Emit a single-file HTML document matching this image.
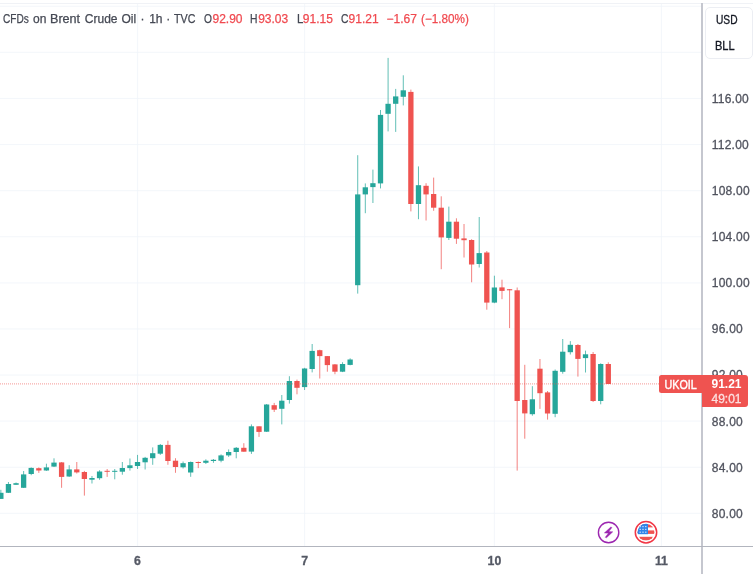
<!DOCTYPE html>
<html><head><meta charset="utf-8"><title>UKOIL chart</title>
<style>
html,body{margin:0;padding:0;background:#fff;}
body{width:753px;height:574px;position:relative;overflow:hidden;font-family:"Liberation Sans",sans-serif;color:#131722;}
#chart{position:absolute;left:0;top:0;width:753px;height:574px;}
.topline{position:absolute;left:0;top:2.5px;width:753px;height:1px;background:#f0f2f6;}
.vaxis{position:absolute;left:701px;top:3px;width:2px;height:571px;background:#c5c7cf;}
.haxis{position:absolute;left:0;top:545.55px;width:753px;height:1.3px;background:#b2b5be;}
.legend{position:absolute;left:0;top:10.3px;height:18px;line-height:18px;font-size:12px;white-space:nowrap;color:#454954;-webkit-text-stroke:0.25px;}
.legend span{position:absolute;top:0;white-space:nowrap}
.legend .v{color:#f04a50}
.pl{position:absolute;left:711.8px;letter-spacing:0.22px;width:40px;height:16px;line-height:16px;font-size:12px;color:#50535e;-webkit-text-stroke:0.3px #50535e;white-space:nowrap;}
.tl{position:absolute;top:552.7px;width:40px;height:16px;line-height:16px;text-align:center;font-size:12.3px;font-weight:bold;color:#555965;-webkit-text-stroke:0.3px #555965;}
.unit{position:absolute;left:705.1px;top:6.6px;width:47.7px;height:52.4px;border:1px solid #eceef3;border-radius:5px;box-sizing:border-box;background:#fff;font-size:12px;color:#131722;}
.unit div{position:absolute;left:8.9px;height:14px;line-height:14px;transform-origin:0 50%;-webkit-text-stroke:0.3px;}
.sym{position:absolute;left:659px;top:375.1px;width:43px;height:17.7px;background:#ef5350;border-radius:2.5px 0 0 2.5px;color:#fff;font-size:12.4px;font-weight:normal;-webkit-text-stroke:0.4px #fff;line-height:20.4px;text-align:center;overflow:visible;}
.sym span{display:inline-block;transform:scaleX(.87);}
.last{position:absolute;left:701.5px;top:375.1px;width:46.3px;height:32.2px;background:#ef5350;border-radius:0 3px 3px 0;color:#fff;font-size:12px;}
.last div{position:absolute;left:10px;height:14px;line-height:14px;white-space:nowrap}
</style></head><body>
<svg id="chart" width="753" height="574" viewBox="0 0 753 574">
<rect x="0" y="5.70" width="701" height="1.1" fill="#f0f3fa" opacity=".7"/>
<rect x="0" y="51.80" width="701" height="1.1" fill="#f0f3fa" opacity=".7"/>
<rect x="0" y="97.90" width="701" height="1.1" fill="#f0f3fa" opacity=".7"/>
<rect x="0" y="144.00" width="701" height="1.1" fill="#f0f3fa" opacity=".7"/>
<rect x="0" y="190.10" width="701" height="1.1" fill="#f0f3fa" opacity=".7"/>
<rect x="0" y="236.20" width="701" height="1.1" fill="#f0f3fa" opacity=".7"/>
<rect x="0" y="282.30" width="701" height="1.1" fill="#f0f3fa" opacity=".7"/>
<rect x="0" y="328.40" width="701" height="1.1" fill="#f0f3fa" opacity=".7"/>
<rect x="0" y="374.50" width="701" height="1.1" fill="#f0f3fa" opacity=".7"/>
<rect x="0" y="420.60" width="701" height="1.1" fill="#f0f3fa" opacity=".7"/>
<rect x="0" y="466.70" width="701" height="1.1" fill="#f0f3fa" opacity=".7"/>
<rect x="0" y="512.80" width="701" height="1.1" fill="#f0f3fa" opacity=".7"/>
<rect x="136.97" y="3" width="1.1" height="543" fill="#f0f3fa" opacity=".7"/>
<rect x="304.02" y="3" width="1.1" height="543" fill="#f0f3fa" opacity=".7"/>
<rect x="493.85" y="3" width="1.1" height="543" fill="#f0f3fa" opacity=".7"/>
<rect x="660.89" y="3" width="1.1" height="543" fill="#f0f3fa" opacity=".7"/>
<rect x="0.35" y="489.8" width="1" height="9.1" fill="#26a69a" opacity=".72"/>
<rect x="7.94" y="482.0" width="1" height="11.0" fill="#26a69a" opacity=".72"/>
<rect x="15.54" y="482.5" width="1" height="2.3" fill="#26a69a" opacity=".72"/>
<rect x="23.13" y="471.0" width="1" height="17.0" fill="#26a69a" opacity=".72"/>
<rect x="30.72" y="467.4" width="1" height="7.8" fill="#26a69a" opacity=".72"/>
<rect x="38.32" y="467.4" width="1" height="5.5" fill="#ef5350" opacity=".72"/>
<rect x="45.91" y="463.7" width="1" height="7.2" fill="#26a69a" opacity=".72"/>
<rect x="53.50" y="458.3" width="1" height="8.7" fill="#26a69a" opacity=".72"/>
<rect x="61.09" y="462.0" width="1" height="25.8" fill="#ef5350" opacity=".72"/>
<rect x="68.69" y="465.2" width="1" height="11.7" fill="#26a69a" opacity=".72"/>
<rect x="76.28" y="462.0" width="1" height="11.5" fill="#ef5350" opacity=".72"/>
<rect x="83.87" y="470.9" width="1" height="24.7" fill="#ef5350" opacity=".72"/>
<rect x="91.47" y="476.0" width="1" height="7.5" fill="#26a69a" opacity=".72"/>
<rect x="99.06" y="470.2" width="1" height="9.6" fill="#26a69a" opacity=".72"/>
<rect x="106.65" y="469.0" width="1" height="7.9" fill="#ef5350" opacity=".72"/>
<rect x="114.24" y="469.0" width="1" height="10.3" fill="#26a69a" opacity=".72"/>
<rect x="121.84" y="462.0" width="1" height="12.7" fill="#26a69a" opacity=".72"/>
<rect x="129.43" y="458.5" width="1" height="12.1" fill="#26a69a" opacity=".72"/>
<rect x="137.02" y="454.9" width="1" height="14.1" fill="#26a69a" opacity=".72"/>
<rect x="144.62" y="456.9" width="1" height="12.6" fill="#26a69a" opacity=".72"/>
<rect x="152.21" y="447.4" width="1" height="17.4" fill="#26a69a" opacity=".72"/>
<rect x="159.80" y="444.0" width="1" height="10.9" fill="#26a69a" opacity=".72"/>
<rect x="167.40" y="440.7" width="1" height="24.1" fill="#ef5350" opacity=".72"/>
<rect x="174.99" y="458.2" width="1" height="14.6" fill="#ef5350" opacity=".72"/>
<rect x="182.58" y="461.5" width="1" height="7.0" fill="#26a69a" opacity=".72"/>
<rect x="190.17" y="461.5" width="1" height="15.3" fill="#26a69a" opacity=".72"/>
<rect x="197.77" y="461.5" width="1" height="6.6" fill="#ef5350" opacity=".72"/>
<rect x="205.36" y="459.3" width="1" height="4.7" fill="#26a69a" opacity=".72"/>
<rect x="212.95" y="459.0" width="1" height="3.8" fill="#26a69a" opacity=".72"/>
<rect x="220.55" y="454.4" width="1" height="7.9" fill="#26a69a" opacity=".72"/>
<rect x="228.14" y="449.4" width="1" height="7.5" fill="#26a69a" opacity=".72"/>
<rect x="235.73" y="447.0" width="1" height="11.3" fill="#26a69a" opacity=".72"/>
<rect x="243.33" y="443.2" width="1" height="8.5" fill="#ef5350" opacity=".72"/>
<rect x="250.92" y="424.4" width="1" height="29.5" fill="#26a69a" opacity=".72"/>
<rect x="258.51" y="426.3" width="1" height="10.6" fill="#ef5350" opacity=".72"/>
<rect x="266.11" y="404.0" width="1" height="28.0" fill="#26a69a" opacity=".72"/>
<rect x="273.70" y="402.9" width="1" height="9.1" fill="#ef5350" opacity=".72"/>
<rect x="281.29" y="395.0" width="1" height="29.4" fill="#26a69a" opacity=".72"/>
<rect x="288.88" y="376.2" width="1" height="27.4" fill="#26a69a" opacity=".72"/>
<rect x="296.48" y="379.6" width="1" height="14.7" fill="#ef5350" opacity=".72"/>
<rect x="304.07" y="367.8" width="1" height="22.2" fill="#26a69a" opacity=".72"/>
<rect x="311.66" y="344.0" width="1" height="28.4" fill="#26a69a" opacity=".72"/>
<rect x="319.26" y="349.7" width="1" height="28.8" fill="#ef5350" opacity=".72"/>
<rect x="326.85" y="356.0" width="1" height="15.7" fill="#ef5350" opacity=".72"/>
<rect x="334.44" y="364.0" width="1" height="10.2" fill="#ef5350" opacity=".72"/>
<rect x="342.04" y="362.2" width="1" height="9.9" fill="#26a69a" opacity=".72"/>
<rect x="349.63" y="358.3" width="1" height="7.0" fill="#26a69a" opacity=".72"/>
<rect x="357.22" y="155.2" width="1" height="138.4" fill="#26a69a" opacity=".72"/>
<rect x="364.81" y="183.4" width="1" height="29.8" fill="#26a69a" opacity=".72"/>
<rect x="372.41" y="169.6" width="1" height="33.4" fill="#26a69a" opacity=".72"/>
<rect x="380.00" y="110.0" width="1" height="78.4" fill="#26a69a" opacity=".72"/>
<rect x="387.59" y="57.9" width="1" height="73.5" fill="#26a69a" opacity=".72"/>
<rect x="395.19" y="88.9" width="1" height="43.0" fill="#26a69a" opacity=".72"/>
<rect x="402.78" y="75.3" width="1" height="30.1" fill="#26a69a" opacity=".72"/>
<rect x="410.37" y="89.6" width="1" height="121.8" fill="#ef5350" opacity=".72"/>
<rect x="417.97" y="166.4" width="1" height="52.8" fill="#26a69a" opacity=".72"/>
<rect x="425.56" y="183.2" width="1" height="37.3" fill="#ef5350" opacity=".72"/>
<rect x="433.15" y="177.6" width="1" height="33.2" fill="#ef5350" opacity=".72"/>
<rect x="440.74" y="196.3" width="1" height="72.9" fill="#ef5350" opacity=".72"/>
<rect x="448.34" y="206.6" width="1" height="33.4" fill="#26a69a" opacity=".72"/>
<rect x="455.93" y="218.3" width="1" height="25.6" fill="#ef5350" opacity=".72"/>
<rect x="463.52" y="224.0" width="1" height="33.5" fill="#ef5350" opacity=".72"/>
<rect x="471.12" y="239.2" width="1" height="43.1" fill="#ef5350" opacity=".72"/>
<rect x="478.71" y="217.0" width="1" height="50.5" fill="#26a69a" opacity=".72"/>
<rect x="486.30" y="251.0" width="1" height="58.7" fill="#ef5350" opacity=".72"/>
<rect x="493.90" y="275.7" width="1" height="27.5" fill="#26a69a" opacity=".72"/>
<rect x="501.49" y="279.7" width="1" height="19.5" fill="#ef5350" opacity=".72"/>
<rect x="509.08" y="289.0" width="1" height="39.1" fill="#ef5350" opacity=".72"/>
<rect x="516.67" y="287.5" width="1" height="183.1" fill="#ef5350" opacity=".72"/>
<rect x="524.27" y="364.8" width="1" height="73.9" fill="#ef5350" opacity=".72"/>
<rect x="531.86" y="386.2" width="1" height="29.5" fill="#26a69a" opacity=".72"/>
<rect x="539.45" y="359.0" width="1" height="49.9" fill="#ef5350" opacity=".72"/>
<rect x="547.05" y="391.0" width="1" height="28.6" fill="#ef5350" opacity=".72"/>
<rect x="554.64" y="369.5" width="1" height="47.7" fill="#26a69a" opacity=".72"/>
<rect x="562.23" y="339.0" width="1" height="34.7" fill="#26a69a" opacity=".72"/>
<rect x="569.83" y="341.1" width="1" height="13.4" fill="#26a69a" opacity=".72"/>
<rect x="577.42" y="344.0" width="1" height="32.6" fill="#ef5350" opacity=".72"/>
<rect x="585.01" y="350.6" width="1" height="21.9" fill="#26a69a" opacity=".72"/>
<rect x="592.60" y="352.0" width="1" height="50.0" fill="#ef5350" opacity=".72"/>
<rect x="600.20" y="363.3" width="1" height="41.0" fill="#26a69a" opacity=".72"/>
<rect x="607.79" y="362.3" width="1" height="21.7" fill="#ef5350" opacity=".72"/>
<rect x="-1.80" y="492.8" width="5.3" height="6.1" fill="#26a69a"/>
<rect x="5.79" y="484.0" width="5.3" height="8.8" fill="#26a69a"/>
<rect x="13.39" y="483.2" width="5.3" height="1.6" fill="#26a69a"/>
<rect x="20.98" y="474.4" width="5.3" height="13.4" fill="#26a69a"/>
<rect x="28.57" y="467.9" width="5.3" height="6.1" fill="#26a69a"/>
<rect x="36.17" y="468.2" width="5.3" height="2.3" fill="#ef5350"/>
<rect x="43.76" y="467.4" width="5.3" height="3.1" fill="#26a69a"/>
<rect x="51.35" y="462.6" width="5.3" height="4.0" fill="#26a69a"/>
<rect x="58.94" y="462.4" width="5.3" height="14.5" fill="#ef5350"/>
<rect x="66.54" y="469.4" width="5.3" height="7.1" fill="#26a69a"/>
<rect x="74.13" y="469.4" width="5.3" height="3.0" fill="#ef5350"/>
<rect x="81.72" y="472.0" width="5.3" height="7.0" fill="#ef5350"/>
<rect x="89.32" y="478.0" width="5.3" height="1.7" fill="#26a69a"/>
<rect x="96.91" y="471.5" width="5.3" height="6.7" fill="#26a69a"/>
<rect x="104.50" y="470.8" width="5.3" height="1.0" fill="#ef5350"/>
<rect x="112.09" y="470.8" width="5.3" height="1.0" fill="#26a69a"/>
<rect x="119.69" y="468.0" width="5.3" height="3.7" fill="#26a69a"/>
<rect x="127.28" y="465.3" width="5.3" height="2.8" fill="#26a69a"/>
<rect x="134.87" y="462.0" width="5.3" height="4.0" fill="#26a69a"/>
<rect x="142.47" y="457.8" width="5.3" height="4.5" fill="#26a69a"/>
<rect x="150.06" y="453.2" width="5.3" height="5.0" fill="#26a69a"/>
<rect x="157.65" y="444.9" width="5.3" height="8.8" fill="#26a69a"/>
<rect x="165.25" y="444.9" width="5.3" height="16.1" fill="#ef5350"/>
<rect x="172.84" y="460.7" width="5.3" height="6.3" fill="#ef5350"/>
<rect x="180.43" y="463.2" width="5.3" height="4.1" fill="#26a69a"/>
<rect x="188.02" y="462.0" width="5.3" height="10.5" fill="#26a69a"/>
<rect x="195.62" y="462.0" width="5.3" height="1.0" fill="#ef5350"/>
<rect x="203.21" y="460.7" width="5.3" height="2.1" fill="#26a69a"/>
<rect x="210.80" y="459.8" width="5.3" height="1.2" fill="#26a69a"/>
<rect x="218.40" y="455.4" width="5.3" height="5.3" fill="#26a69a"/>
<rect x="225.99" y="452.0" width="5.3" height="3.4" fill="#26a69a"/>
<rect x="233.58" y="447.8" width="5.3" height="4.2" fill="#26a69a"/>
<rect x="241.18" y="447.8" width="5.3" height="3.9" fill="#ef5350"/>
<rect x="248.77" y="426.3" width="5.3" height="25.3" fill="#26a69a"/>
<rect x="256.36" y="426.3" width="5.3" height="5.6" fill="#ef5350"/>
<rect x="263.96" y="404.5" width="5.3" height="27.2" fill="#26a69a"/>
<rect x="271.55" y="405.2" width="5.3" height="4.5" fill="#ef5350"/>
<rect x="279.14" y="400.7" width="5.3" height="8.1" fill="#26a69a"/>
<rect x="286.73" y="381.0" width="5.3" height="19.0" fill="#26a69a"/>
<rect x="294.33" y="381.0" width="5.3" height="6.8" fill="#ef5350"/>
<rect x="301.92" y="368.5" width="5.3" height="18.6" fill="#26a69a"/>
<rect x="309.51" y="350.9" width="5.3" height="18.1" fill="#26a69a"/>
<rect x="317.11" y="350.2" width="5.3" height="5.9" fill="#ef5350"/>
<rect x="324.70" y="356.1" width="5.3" height="9.0" fill="#ef5350"/>
<rect x="332.29" y="364.4" width="5.3" height="7.3" fill="#ef5350"/>
<rect x="339.89" y="364.0" width="5.3" height="7.7" fill="#26a69a"/>
<rect x="347.48" y="359.5" width="5.3" height="5.4" fill="#26a69a"/>
<rect x="355.07" y="194.4" width="5.3" height="90.8" fill="#26a69a"/>
<rect x="362.66" y="187.3" width="5.3" height="7.1" fill="#26a69a"/>
<rect x="370.26" y="183.2" width="5.3" height="3.9" fill="#26a69a"/>
<rect x="377.85" y="114.9" width="5.3" height="68.5" fill="#26a69a"/>
<rect x="385.44" y="103.8" width="5.3" height="10.0" fill="#26a69a"/>
<rect x="393.04" y="96.4" width="5.3" height="7.4" fill="#26a69a"/>
<rect x="400.63" y="90.3" width="5.3" height="6.5" fill="#26a69a"/>
<rect x="408.22" y="91.9" width="5.3" height="112.1" fill="#ef5350"/>
<rect x="415.82" y="185.2" width="5.3" height="18.8" fill="#26a69a"/>
<rect x="423.41" y="185.8" width="5.3" height="8.6" fill="#ef5350"/>
<rect x="431.00" y="194.0" width="5.3" height="13.7" fill="#ef5350"/>
<rect x="438.59" y="207.7" width="5.3" height="29.7" fill="#ef5350"/>
<rect x="446.19" y="221.7" width="5.3" height="16.2" fill="#26a69a"/>
<rect x="453.78" y="221.7" width="5.3" height="17.0" fill="#ef5350"/>
<rect x="461.37" y="238.4" width="5.3" height="1.8" fill="#ef5350"/>
<rect x="468.97" y="240.0" width="5.3" height="24.5" fill="#ef5350"/>
<rect x="476.56" y="253.1" width="5.3" height="10.9" fill="#26a69a"/>
<rect x="484.15" y="252.5" width="5.3" height="50.1" fill="#ef5350"/>
<rect x="491.75" y="287.5" width="5.3" height="15.1" fill="#26a69a"/>
<rect x="499.34" y="287.4" width="5.3" height="3.5" fill="#ef5350"/>
<rect x="506.93" y="289.2" width="5.3" height="1.1" fill="#ef5350"/>
<rect x="514.52" y="290.3" width="5.3" height="110.7" fill="#ef5350"/>
<rect x="522.12" y="400.0" width="5.3" height="13.4" fill="#ef5350"/>
<rect x="529.71" y="399.3" width="5.3" height="14.9" fill="#26a69a"/>
<rect x="537.30" y="368.7" width="5.3" height="24.5" fill="#ef5350"/>
<rect x="544.90" y="392.4" width="5.3" height="21.1" fill="#ef5350"/>
<rect x="552.49" y="370.8" width="5.3" height="43.0" fill="#26a69a"/>
<rect x="560.08" y="351.7" width="5.3" height="20.1" fill="#26a69a"/>
<rect x="567.68" y="344.8" width="5.3" height="7.4" fill="#26a69a"/>
<rect x="575.27" y="345.0" width="5.3" height="13.9" fill="#ef5350"/>
<rect x="582.86" y="354.3" width="5.3" height="3.8" fill="#26a69a"/>
<rect x="590.45" y="354.0" width="5.3" height="47.0" fill="#ef5350"/>
<rect x="598.05" y="364.0" width="5.3" height="37.0" fill="#26a69a"/>
<rect x="605.64" y="364.0" width="5.3" height="20.0" fill="#ef5350"/>
<line x1="0" y1="383.9" x2="701" y2="383.9" stroke="#ef5350" stroke-width="1" stroke-dasharray="1 1" opacity=".6"/>
<g fill="none" stroke="#9c27b0" stroke-width="1.4">
<circle cx="608.6" cy="532.5" r="10.2" fill="#fff"/>
</g>
<path d="M610.72 527.06 L612.03 527.49 L608.85 531.59 L612.9 531.76 L606.54 537.77 L605.15 537.33 L608.41 533.2 L604.28 532.94 Z" fill="#9c27b0" stroke="#9c27b0" stroke-width=".35" stroke-linejoin="round"/>
<g>
<circle cx="646" cy="532.25" r="10.7" fill="#fff" stroke="#f23645" stroke-width="1.5"/>
<clipPath id="fc"><circle cx="646" cy="532.2" r="8.4"/></clipPath>
<g clip-path="url(#fc)">
<rect x="637" y="523" width="18" height="19" fill="#fff"/>
<rect x="637" y="524.3" width="18" height="3.1" fill="#ef5350"/>
<rect x="637" y="530.4" width="18" height="3.5" fill="#ef5350"/>
<rect x="637" y="536.8" width="18" height="3.9" fill="#ef5350"/>
<rect x="637" y="523" width="11" height="11.2" fill="#3085e8"/>
<g fill="#dfe9fd"><rect x="639.6" y="526" width="1.2" height="1.2"/><rect x="642.4" y="526" width="1.2" height="1.2"/><rect x="645.2" y="526" width="1.2" height="1.2"/>
<rect x="639.6" y="528.8" width="1.2" height="1.2"/><rect x="642.4" y="528.8" width="1.2" height="1.2"/><rect x="645.2" y="528.8" width="1.2" height="1.2"/>
<rect x="639.6" y="531.6" width="1.2" height="1.2"/><rect x="642.4" y="531.6" width="1.2" height="1.2"/><rect x="645.2" y="531.6" width="1.2" height="1.2"/></g>
</g></g>
</svg>
<div class="topline"></div>
<div class="legend"><span class="k" style="left:2.6px;transform:scaleX(0.84);transform-origin:0 50%">CFDs</span><span class="k" style="left:33.1px">on</span><span class="k" style="left:49.9px;transform:scaleX(1.05);transform-origin:0 50%">Brent</span><span class="k" style="left:84.8px">Crude</span><span class="k" style="left:121.4px">Oil</span><span class="k" style="left:140.5px">·</span><span class="k" style="left:149.2px">1h</span><span class="k" style="left:166.3px">·</span><span class="k" style="left:173.7px;transform:scaleX(0.89);transform-origin:0 50%">TVC</span><span class="k" style="left:204.0px;transform:scaleX(0.85);transform-origin:0 50%">O</span><span class="v" style="left:212.5px">92.90</span><span class="k" style="left:250.2px;transform:scaleX(0.86);transform-origin:0 50%">H</span><span class="v" style="left:258.2px">93.03</span><span class="k" style="left:296.6px;transform:scaleX(0.95);transform-origin:0 50%">L</span><span class="v" style="left:302.8px">91.15</span><span class="k" style="left:340.6px;transform:scaleX(0.86);transform-origin:0 50%">C</span><span class="v" style="left:348.6px">91.21</span><span class="v" style="left:386.5px">−1.67</span><span class="v" style="left:420.7px;transform:scaleX(.975);transform-origin:0 50%">(−1.80%)</span></div>
<div class="pl" style="top:90.8px">116.00</div>
<div class="pl" style="top:136.9px">112.00</div>
<div class="pl" style="top:183.0px">108.00</div>
<div class="pl" style="top:229.1px">104.00</div>
<div class="pl" style="top:275.2px">100.00</div>
<div class="pl" style="top:321.3px">96.00</div>
<div class="pl" style="top:367.4px">92.00</div>
<div class="pl" style="top:413.5px">88.00</div>
<div class="pl" style="top:459.6px">84.00</div>
<div class="pl" style="top:505.7px">80.00</div>
<div class="vaxis"></div>
<div class="haxis"></div>
<div class="tl" style="left:117.5px">6</div>
<div class="tl" style="left:284.6px">7</div>
<div class="tl" style="left:474.4px">10</div>
<div class="tl" style="left:641.4px">11</div>
<div class="unit"><div style="top:5.4px;left:9.8px;transform:scaleX(.85)">USD</div><div style="top:31px;left:9.3px;transform:scaleX(.92)">BLL</div></div>
<div class="sym"><span>UKOIL</span></div>
<div class="last"><div style="top:2.4px;font-weight:bold">91.21</div><div style="top:16.7px;opacity:.82;-webkit-text-stroke:0.3px #fff">49:01</div></div>
</body></html>
